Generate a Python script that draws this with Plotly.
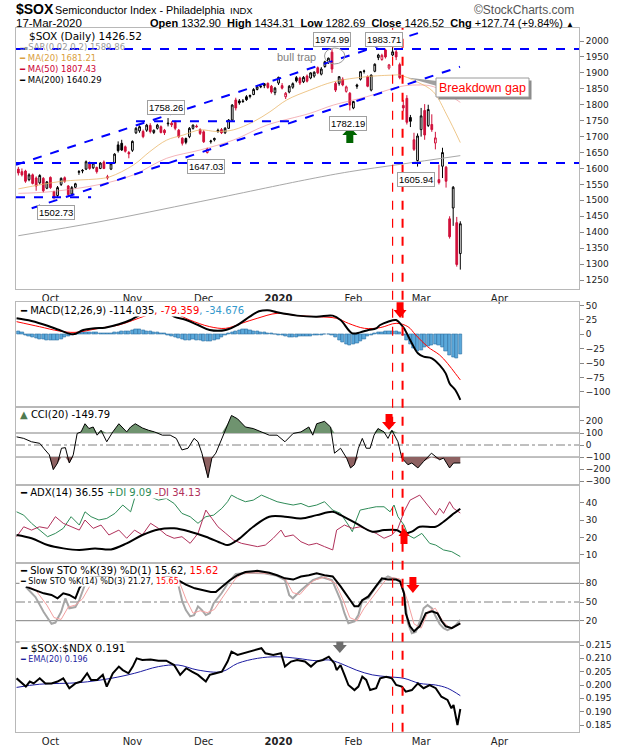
import numpy as np
import pandas as pd
import plotly.graph_objects as go
from plotly.subplots import make_subplots

# ---------------- trading calendar (day number = position in SESSIONS) ----------------
HOLIDAYS = ["2019-11-28", "2019-12-25", "2020-01-01", "2020-01-20", "2020-02-17", "2020-04-10"]
SESSIONS = [d for d in pd.bdate_range("2019-09-17", "2020-04-30") if d.strftime("%Y-%m-%d") not in HOLIDAYS]

# ---------------- $SOX daily OHLC, 18-Sep-2019 .. 17-Mar-2020 (sessions 1..125) ----------------
open_ = [1598, 1590, 1592, 1565, 1580, 1570, 1555, 1569, 1538, 1572,
         1527, 1515, 1550, 1571, 1545, 1520, 1541, 1588, 1592, 1598,
         1618, 1602, 1603, 1600, 1620, 1574, 1598, 1617, 1674, 1679,
         1668, 1650, 1657, 1712, 1718, 1716, 1720, 1735, 1713, 1726,
         1731, 1720, 1740, 1742, 1745, 1720, 1695, 1694, 1700, 1726,
         1733, 1722, 1715, 1650, 1684, 1690, 1716, 1722, 1712, 1726,
         1752, 1815, 1812, 1812, 1825, 1826, 1832, 1848, 1856, 1866,
         1867, 1858, 1838, 1868, 1860, 1825, 1840, 1855, 1885, 1884,
         1872, 1890, 1884, 1890, 1916, 1896, 1920, 1932, 1965, 1867,
         1867, 1880, 1842, 1836, 1790, 1862, 1880, 1906, 1888, 1846,
         1905, 1948, 1942, 1972, 1915, 1956, 1966, 1926, 1798, 1820,
         1760, 1690, 1625, 1722, 1782, 1735, 1738, 1680, 1565, 1607,
         1604, 1442, 1476, 1430, 1332.90]
high_ = [1605, 1600, 1596, 1585, 1584, 1575, 1582, 1573, 1560, 1575,
         1530, 1545, 1572, 1575, 1548, 1545, 1555, 1595, 1598, 1625,
         1622, 1620, 1606, 1620, 1625, 1580, 1618, 1648, 1685, 1690,
         1672, 1655, 1688, 1730, 1735, 1722, 1740, 1742, 1722, 1740,
         1735, 1724, 1758.26, 1748, 1750, 1724, 1698, 1697, 1730, 1738,
         1738, 1726, 1720, 1665, 1690, 1697, 1725, 1727, 1730, 1755,
         1802, 1822, 1818, 1818, 1830, 1832, 1852, 1860, 1862, 1868,
         1870, 1862, 1856, 1888, 1868, 1840, 1862, 1870, 1890, 1888,
         1890, 1895, 1902, 1905, 1920, 1918, 1938, 1948, 1974.99, 1872,
         1890, 1886, 1860, 1840, 1812, 1866, 1906, 1910, 1892, 1895,
         1930, 1960, 1960, 1976, 1928, 1983.71, 1972, 1932, 1815, 1830,
         1768, 1712, 1710, 1790, 1802, 1800, 1770, 1715, 1612, 1665,
         1608, 1450, 1545, 1448, 1434.31]
low_ = [1578, 1575, 1555, 1560, 1550, 1530, 1550, 1525, 1535, 1536,
        1502.73, 1508, 1545, 1555, 1515, 1516, 1538, 1580, 1585, 1595,
        1596, 1598, 1584, 1598, 1598, 1565, 1595, 1614, 1650, 1655,
        1650, 1632, 1652, 1708, 1712, 1695, 1715, 1710, 1708, 1722,
        1710, 1705, 1732, 1730, 1720, 1695, 1672, 1676, 1695, 1722,
        1728, 1705, 1680, 1647.03, 1678, 1685, 1712, 1708, 1708, 1724,
        1748, 1782, 1800, 1806, 1812, 1820, 1830, 1845, 1852, 1852,
        1850, 1835, 1830, 1862, 1848, 1818, 1836, 1850, 1870, 1862,
        1868, 1870, 1880, 1885, 1896, 1892, 1916, 1928, 1900, 1840,
        1860, 1858, 1838, 1782.19, 1786, 1850, 1876, 1898, 1855, 1842,
        1902, 1940, 1938, 1945, 1910, 1952, 1940, 1880, 1780, 1738,
        1730, 1655, 1605.94, 1700, 1690, 1730, 1715, 1660, 1550, 1570,
        1540, 1380, 1420, 1292, 1282.69]
close_ = [1586, 1580, 1560, 1580, 1553, 1545, 1578, 1530, 1558, 1540,
          1512, 1540, 1569, 1560, 1518, 1540, 1552, 1590, 1594, 1621,
          1600, 1617, 1590, 1617, 1600, 1571, 1615, 1645, 1656, 1658,
          1654, 1646, 1685, 1726, 1731, 1700, 1736, 1716, 1720, 1736,
          1713, 1712, 1742, 1737, 1726, 1700, 1679, 1682, 1726, 1736,
          1731, 1710, 1684, 1661, 1686, 1694, 1720, 1712, 1726, 1752,
          1799, 1790, 1806, 1810, 1816, 1829, 1848, 1856, 1858, 1860,
          1854, 1840, 1852, 1886, 1852, 1836, 1858, 1866, 1875, 1868,
          1886, 1874, 1900, 1902, 1900, 1912, 1935, 1946, 1912, 1846,
          1888, 1862, 1856, 1799, 1810, 1858, 1904, 1905, 1858, 1893,
          1927, 1956, 1955, 1950, 1925, 1966, 1950, 1885, 1790, 1745,
          1748, 1660, 1702, 1765, 1705, 1785, 1722, 1696, 1556, 1650,
          1560, 1386, 1541, 1298.78, 1426.52]

# moving averages (session number, value)
ma20_day = [1, 12.7, 18.3, 23, 26.7, 33.3, 37.9, 42.6, 47.3, 52, 56.6, 61.3, 67, 71.6, 76.3, 82.8,
            89.4, 98.7, 106.2, 108, 112.8, 117.4, 121.2, 125]
ma20_val = [1536, 1559, 1564, 1567, 1574, 1611, 1653, 1689, 1705, 1721, 1716, 1721, 1747, 1778, 1815, 1846,
            1872, 1888, 1893, 1893, 1872, 1841, 1768, 1681.21]
ma50_day = [1, 9.9, 23.9, 33.3, 42.6, 52, 61.3, 70.7, 82.8, 89.4, 98.7, 108.1, 112.8, 117.4, 125]
ma50_val = [1522, 1527, 1550, 1580, 1632, 1658, 1689, 1736, 1773, 1799, 1825, 1857, 1862, 1857, 1807.43]
ma200_day = [1, 23.9, 52, 82.8, 94, 108.1, 125]
ma200_val = [1389, 1433, 1496, 1567, 1590, 1613, 1640.29]

# MACD(12,26,9)
macd_day = [0.5, 4.7, 9.2, 12.5, 16.4, 19.2, 22.5, 25.3, 29.2, 32.5, 34.2, 37, 40, 42.5, 44.7, 48.1, 51.4,
            54.7, 59.2, 62.5, 65.9, 68.5, 71, 73.6, 79.2, 84.7, 89.2, 91.4, 94.7, 96.9, 99.2, 101.4, 102.5,
            104.7, 107, 108.1, 109.2, 111.4, 113.1, 114.7, 117, 119.2, 120.9, 122, 123.6, 125]
macd_val = [27.8, 23.2, 15.0, 7.5, 0, 7.5, 10.4, 11.6, 17.4, 24.9, 30.7, 40, 46, 40, 30.7, 24.9, 16.2,
            7.5, 7.5, 16.2, 30.7, 40, 42, 38.3, 32.5, 30.7, 32.5, 24.9, 1.7, 3.4, 7.5, 10.4, 16.2,
            22, 24.9, 19.1, 10.4, -15.7, -33.1, -38.9, -41.8, -53.5, -68, -85.4, -97, -114.035]
signal_day = [0.5, 6.9, 12.5, 16.9, 23.6, 29.2, 33, 37, 41, 45, 49.1, 54.7, 59.2, 63.6, 68, 73.6, 79.2,
              84.7, 90.3, 93.6, 98.1, 102.5, 107, 110.3, 112.5, 115.8, 119.2, 121.4, 123.6, 125]
signal_val = [22, 13.3, 5.7, 3.4, 10.4, 16.2, 24, 33, 40, 36, 24.9, 13.3, 10.4, 19.1, 27.8, 36.5, 32.5,
              30.7, 27.8, 19.1, 10.4, 11.6, 19.1, 13.3, -1.2, -21.5, -36, -50.5, -68, -79.359]
hist_val = [5, 3, -1, -3, -5, -7, -8, -9, -10, -11,
            -11, -10, -8, -6, -4, -2, 0, 2, 3, 4,
            4, 3, 3, 2, 2, 1, 2, 3, 4, 5,
            6, 6, 7, 8, 8, 7, 6, 5, 4, 3,
            2, 1, -1, -3, -5, -7, -9, -10, -10, -9,
            -10, -11, -12, -13, -12, -10, -8, -5, -2, 1,
            4, 6, 7, 8, 8, 7, 6, 5, 4, 3,
            2, 1, 0, -1, -2, -4, -5, -5, -5, -4,
            -4, -3, -3, -2, -1, -1, 0, 0, -2, -6,
            -10, -14, -17, -19, -18, -16, -12, -8, -4, -1,
            1, 3, 4, 5, 5, 6, 5, 3, -2, -10,
            -18, -25, -30, -28, -22, -20, -19, -18, -19, -22,
            -30, -36, -40, -42, -34.676]

# CCI(20)
cci_day = [0.5, 2.5, 4.7, 7.0, 8.1, 9.7, 10.8, 12.0, 13.1, 14.2, 15.3, 16.4, 17.5, 18.6, 19.7, 20.8, 22.0,
           23.1, 24.2, 25.8, 27.5, 29.2, 31.4, 32.5, 33.8, 35.8, 37.5, 39.2, 41.4, 43.6, 45.3, 46.9, 48.6,
           50.3, 51.4, 52.5, 54.2, 55.3, 56.4, 58.1, 59.7, 60.8, 62.5, 64.7, 66.9, 69.2, 71.4, 73.6, 75.8,
           78.1, 80.3, 82.5, 83.6, 84.7, 86.9, 88.6, 89.7, 91.4, 93.1, 94.2, 95.3, 96.4, 97.5, 98.6, 99.7,
           100.8, 101.9, 103.6, 104.7, 105.8, 107.5, 108.6, 110.3, 111.4, 113.1, 114.7, 116.9, 119.2, 120.3,
           122.0, 123.1, 125.0]
cci_val = [68, 55, 27, 14, -27, -82, -205, -150, -27, -22, -150, -82, 96, 109, 177, 137, 150,
           82, 123, 27, 109, 177, 109, 150, 177, 142, 123, 109, 82, 82, 55, -41, -27,
           55, 27, -68, -273, -109, -68, 55, 177, 246, 218, 150, 137, 109, 82, 82, 27,
           96, 109, 150, 82, 177, 197, 150, -68, -27, -109, -191, -164, -27, 55, -27, -27,
           82, 137, 109, 55, 123, 27, -109, -164, -150, -191, -137, -68, -123, -109,
           -191, -150, -149.79]

# ADX(14), +DI, -DI
adx_day = [0.5, 4.7, 9.2, 13.6, 18.1, 22.5, 27.0, 31.4, 35.8, 40.3, 44.7, 49.2, 53.6, 58.1, 59.7, 62.5, 66.9,
           71.4, 75.8, 80.3, 84.7, 89.2, 91.4, 95.8, 100.3, 103.6, 107, 109.2, 111.4, 113.6, 118.1, 120.3,
           122.6, 125]
adx_val = [21.5, 19.6, 15.7, 13.8, 12.9, 13.8, 13.2, 16.7, 21.5, 24.7, 25.3, 23.4, 20.5, 16.7, 15.7, 18.6, 26.2,
           32.0, 32.0, 31.0, 32.9, 34.8, 32.9, 28.2, 23.4, 24.3, 24.3, 22.4, 23.4, 26.2, 26.2, 29.1,
           32.9, 36.55]
pdi_day = [0.5, 2.5, 4.7, 6.9, 9.2, 11.4, 13.6, 15.8, 18.1, 19.7, 21.4, 23.6, 25.8, 28.1, 30.3, 32.5, 33.6, 35,
           37, 38.1, 40.3, 42.5, 44.7, 46.9, 49.2, 51.4, 53.6, 55.8, 58.1, 59.7, 60.8, 62.5, 64.7, 66.9, 69.2,
           71.4, 73.6, 75.8, 78.1, 80.3, 82.5, 84.7, 86.9, 89.2, 91.4, 93.6, 94.7, 95.8, 96.9, 99.2, 101.4,
           103.6, 105.3, 106.4, 107.5, 109.2, 110.3, 112, 114.2, 116.4, 118.1, 120.3, 122.6, 125]
pdi_val = [34.8, 32.9, 28.2, 24.3, 20.5, 22.4, 25.3, 32.0, 27.2, 34.8, 32.0, 30.1, 31.0, 33.9, 38.7, 34.8, 42.5, 46,
           44, 43.4, 41.5, 42.5, 39.6, 33.9, 32.0, 28.2, 32.0, 32.9, 36.8, 40.6, 44.4, 42.5, 40.6, 41.5, 44.4,
           42.5, 40.6, 39.6, 38.7, 39.6, 37.7, 38.7, 40.6, 35.8, 33.9, 27.2, 23.4, 30.1, 35.8, 36.8, 37.7,
           37.7, 34.8, 38.7, 32.0, 27.2, 21.5, 19.6, 22.4, 16.7, 15.7, 12.9, 11.9, 9.09]
mdi_day = [0.5, 2.5, 4.7, 6.9, 9.2, 11.4, 13.6, 15.8, 18.1, 19.7, 22.0, 24.2, 26.4, 29.2, 31.4, 33.6, 35.8, 38.1,
           40.3, 42.5, 44.7, 46.9, 49.2, 51.4, 53.6, 55.3, 57.0, 59.2, 61.4, 63.6, 65.9, 68.1, 70.3, 72.5, 74.7,
           75.8, 78.1, 80.3, 82.5, 84.7, 86.9, 89.2, 90.3, 92.5, 94.7, 96.9, 99.2, 101.4, 103.6, 105.8, 107.5,
           109.2, 110.9, 112.5, 113.6, 115.8, 118.1, 119.2, 120.3, 122, 123.1, 125]
mdi_val = [20.5, 26.2, 24.3, 26.2, 25.3, 32.0, 28.2, 26.2, 24.3, 30.1, 25.3, 27.2, 21.5, 24.3, 19.6, 24.3, 21.5, 28.2,
           25.3, 21.5, 19.6, 20.5, 16.7, 22.4, 35.8, 31.0, 26.2, 22.4, 18.6, 16.7, 15.7, 14.8, 15.7, 19.6, 24.3,
           20.5, 21.5, 17.6, 15.7, 16.7, 14.8, 12.9, 24.3, 27.2, 25.3, 26.2, 24.3, 22.4, 19.6, 21.5, 25.3,
           34.8, 41.5, 43.4, 44.4, 38.7, 32.9, 36.8, 33.9, 40.6, 36.8, 34.13]

# Slow stochastics
stok39_day = [3.1, 5.8, 8.1, 10.3, 12.0, 13.6, 15.3, 17.0, 18.1, 20, 25, 30, 35, 40, 45, 48, 50.5, 52.5, 55,
              56.4, 58.1, 60.3, 62.5, 64.7, 68, 71.4, 73.6, 75.8, 78.1, 80.3, 82.5, 84.7, 86.9, 89.2, 91.4,
              93.6, 95.3, 96.4, 97.5, 99.2, 101.4, 103, 104.7, 107, 108.1, 109.2, 109.7, 110.9, 112, 113.6,
              115.3, 117, 118.6, 119.8, 120.9, 122.6, 125]
stok39_val = [74.6, 69.3, 63.9, 61.3, 55.9, 63.9, 61.3, 55.9, 72, 88, 92, 95, 97, 95, 88, 78, 72, 69, 66,
              66, 74, 85, 93, 98, 100, 97, 93, 88, 86, 91, 93, 96, 93, 91, 75,
              56, 43, 43, 53, 59, 75, 88, 86, 86, 83, 64, 32, 11, 3, 11,
              32, 35, 32, 19, 11, 8, 15.62]
stok14_day = [3.1, 5.8, 8.1, 10.3, 11.4, 13.0, 14.2, 15.3, 17.0, 18.1, 19.5, 21, 24, 28, 32, 36, 40, 43, 44.7,
              46, 47, 48, 49.2, 50.3, 51.4, 52.5, 53.6, 54.7, 55.8, 58, 60, 62, 66, 70, 73.6, 75.8, 77, 78,
              80.3, 83.6, 86, 89, 91.4, 92.5, 93.6, 95.3, 96.4, 97.5, 99.2, 101.4, 103, 104.7, 106, 108.1,
              109.2, 110.3, 111.4, 112.5, 113.6, 114.7, 115.8, 117, 118, 119.2, 120.3, 121.4, 122.6, 123.6, 125]
stok14_val = [74, 58, 34, 15, 17, 34, 56, 40, 42, 53, 75, 90, 93, 96, 90, 96, 92, 97, 95,
              75, 51, 37, 27, 29, 43, 37, 29, 32, 48, 64, 82, 95, 97, 96, 92, 85, 61, 56,
              69, 85, 90, 85, 53, 32, 16, 19, 29, 53, 56, 75, 85, 91, 88, 85,
              64, 16, 0, 2, 18, 40, 45, 40, 28, 15, 8, 5, 8, 12, 21.27]
stod3_day = [3.1, 6, 9, 11, 13, 15, 17, 19, 21, 23, 28, 33, 38, 44, 46, 48, 50, 52, 54, 56, 58, 60, 62, 64,
             68, 72, 74, 76, 78, 80, 82, 84, 87, 90, 92, 94, 96, 98, 100, 102, 104, 106, 108, 110, 112, 114,
             116, 118, 120, 122, 124, 125]
stod3_val = [78, 68, 45, 25, 22, 42, 45, 55, 75, 88, 94, 92, 95, 96, 85, 55, 32, 36, 33, 38, 55, 72, 88, 96,
             97, 95, 92, 86, 65, 62, 75, 85, 90, 80, 55, 25, 20, 40, 55, 70, 85, 89, 87, 55, 15, 8,
             35, 40, 20, 8, 12, 15.65]

# $SOX:$NDX ratio and its EMA(20)
ratio_day = [0.5, 2.0, 3.1, 4.2, 5.3, 7.0, 8.6, 10.3, 12.0, 13.6, 15.3, 17.0, 18.6, 20.3, 21.4, 23.1, 24.7, 25.8,
             27.5, 29.2, 30.3, 31.9, 33.1, 34.2, 35.8, 38.1, 40.3, 42.5, 44.7, 46.4, 48.1, 49.7, 51.4, 53.6,
             54.7, 56.4, 58.1, 59.7, 60.8, 62.5, 64.2, 65.8, 67.5, 69.2, 70.3, 72.5, 74.7, 75.8, 77.5, 79.2,
             81.4, 83.1, 84.7, 86.4, 88.1, 89.7, 90.3, 91.4, 92.5, 93.6, 95.3, 96.4, 97.5, 98.6, 99.7, 101.4,
             102.5, 104.2, 105.8, 107, 108.6, 109.7, 111.4, 113.1, 114.7, 116.4, 118.1, 119.7, 121.4, 122.5,
             123.1, 124.2, 125]
ratio_val = [0.2025, 0.2006, 0.1994, 0.2013, 0.2006, 0.2025, 0.2006, 0.2006, 0.2013, 0.2025, 0.1988, 0.2006,
             0.2013, 0.2044, 0.2019, 0.2019, 0.2038, 0.1994, 0.2044, 0.2069, 0.2056, 0.2044, 0.2069, 0.2100,
             0.2094, 0.2096, 0.2091, 0.2091, 0.2075, 0.2038, 0.2063, 0.2050, 0.2038, 0.2013, 0.2038, 0.2044,
             0.2050, 0.2088, 0.2125, 0.2113, 0.2119, 0.2125, 0.2131, 0.2138, 0.2119, 0.2113, 0.2119, 0.2069,
             0.2088, 0.2094, 0.2088, 0.2069, 0.2088, 0.2094, 0.2106, 0.2081, 0.2056, 0.2075, 0.2038, 0.2000,
             0.1981, 0.1994, 0.2031, 0.2019, 0.1981, 0.1988, 0.2025, 0.2031, 0.2025, 0.2000, 0.1994, 0.1975,
             0.1981, 0.2006, 0.1988, 0.2000, 0.1988, 0.1956, 0.1944, 0.1913, 0.1925, 0.1850, 0.191]
ema_day = [0.5, 7.0, 18.1, 27.0, 33.6, 40.3, 45.8, 51.4, 58.1, 62.5, 68.1, 73.6, 79.2, 84.7, 88.1, 91.4,
           95.8, 100.3, 104.7, 109.2, 113.6, 118.1, 121.4, 125]
ema_val = [0.1991, 0.2003, 0.2009, 0.2025, 0.2044, 0.2069, 0.2075, 0.2056, 0.2050, 0.2081, 0.2100, 0.2106,
           0.2100, 0.2091, 0.2094, 0.2081, 0.2056, 0.2038, 0.2031, 0.2025, 0.2006, 0.2000, 0.1988, 0.196]

# annotations on the price panel
callout_text = ["1974.99", "1983.71", "1758.26", "1647.03", "1502.73", "1782.19", "1605.94"]
callout_day = [89.0, 103.6, 42.4, 53.6, 11.7, 93.5, 112.6]
callout_price = [2006, 2006, 1790, 1605, 1462, 1741, 1565]
support_levels = [1974.99, 1617]
signal_days = [106, 108.8]

# ---------------- geometry helpers ----------------
W, H = 620, 750
ML, MR = 16, 41
PW = W - ML - MR


def xp(p):
    return (p - ML) / PW


def yp(p):
    return 1 - p / H


bar_day = list(range(1, len(close_) + 1))
prev_close = [open_[0]] + close_[:-1]
up = [c >= p for c, p in zip(close_, prev_close)]

RED = "#d0103a"
BLUE = "#0000ff"

fig = make_subplots(rows=6, cols=1, shared_xaxes=True, vertical_spacing=0)


def sub(lst, mask):
    return [v for v, m in zip(lst, mask) if m]


down = [not u for u in up]
fig.add_trace(go.Candlestick(x=sub(bar_day, up), open=sub(open_, up), high=sub(high_, up),
                             low=sub(low_, up), close=sub(close_, up), whiskerwidth=0,
                             increasing=dict(line=dict(color="black", width=1), fillcolor="white"),
                             decreasing=dict(line=dict(color="black", width=1), fillcolor="black"),
                             hoverinfo="skip"), row=1, col=1)
fig.add_trace(go.Candlestick(x=sub(bar_day, down), open=sub(open_, down), high=sub(high_, down),
                             low=sub(low_, down), close=sub(close_, down), whiskerwidth=0,
                             increasing=dict(line=dict(color=RED, width=1), fillcolor="white"),
                             decreasing=dict(line=dict(color=RED, width=1), fillcolor=RED),
                             hoverinfo="skip"), row=1, col=1)
fig.add_trace(go.Scatter(x=ma200_day, y=ma200_val, mode="lines", line=dict(color="#a8a8a8", width=1, shape="spline"),
                         hoverinfo="skip"), row=1, col=1)
fig.add_trace(go.Scatter(x=ma50_day, y=ma50_val, mode="lines",
                         line=dict(color="rgba(235,120,130,0.55)", width=1, shape="spline"), hoverinfo="skip"), row=1, col=1)
fig.add_trace(go.Scatter(x=ma20_day, y=ma20_val, mode="lines",
                         line=dict(color="rgba(232,180,100,0.75)", width=1, shape="spline"), hoverinfo="skip"), row=1, col=1)

# MACD
fig.add_trace(go.Bar(x=bar_day, y=hist_val, width=0.9, marker=dict(color="#5aa8da", line=dict(color="#2b6ea3", width=0.6)),
                     hoverinfo="skip"), row=2, col=1)
fig.add_trace(go.Scatter(x=signal_day, y=signal_val, mode="lines", line=dict(color="#ff0000", width=1, shape="spline"),
                         hoverinfo="skip"), row=2, col=1)
fig.add_trace(go.Scatter(x=macd_day, y=macd_val, mode="lines", line=dict(color="black", width=2, shape="spline"),
                         hoverinfo="skip"), row=2, col=1)

# CCI with shaded extremes
cci_arr = np.array(cci_val, dtype=float)
fig.add_trace(go.Scatter(x=cci_day, y=[100] * len(cci_day), mode="lines", line=dict(width=0), hoverinfo="skip"), row=3, col=1)
fig.add_trace(go.Scatter(x=cci_day, y=np.maximum(cci_arr, 100), mode="lines", line=dict(width=0), fill="tonexty",
                         fillcolor="#6f936f", hoverinfo="skip"), row=3, col=1)
fig.add_trace(go.Scatter(x=cci_day, y=[-100] * len(cci_day), mode="lines", line=dict(width=0), hoverinfo="skip"), row=3, col=1)
fig.add_trace(go.Scatter(x=cci_day, y=np.minimum(cci_arr, -100), mode="lines", line=dict(width=0), fill="tonexty",
                         fillcolor="#8e6262", hoverinfo="skip"), row=3, col=1)
fig.add_trace(go.Scatter(x=cci_day, y=cci_val, mode="lines", line=dict(color="black", width=1), hoverinfo="skip"), row=3, col=1)

# ADX
fig.add_trace(go.Scatter(x=pdi_day, y=pdi_val, mode="lines", line=dict(color="#2e8b57", width=1), hoverinfo="skip"), row=4, col=1)
fig.add_trace(go.Scatter(x=mdi_day, y=mdi_val, mode="lines", line=dict(color="#b0305a", width=1), hoverinfo="skip"), row=4, col=1)
fig.add_trace(go.Scatter(x=adx_day, y=adx_val, mode="lines", line=dict(color="black", width=2, shape="spline"),
                         hoverinfo="skip"), row=4, col=1)

# Stochastics
fig.add_trace(go.Scatter(x=stok14_day, y=stok14_val, mode="lines", line=dict(color="#a6a6a6", width=2), hoverinfo="skip"), row=5, col=1)
fig.add_trace(go.Scatter(x=stod3_day, y=stod3_val, mode="lines", line=dict(color="#f3a0a0", width=1), hoverinfo="skip"), row=5, col=1)
fig.add_trace(go.Scatter(x=stok39_day, y=stok39_val, mode="lines", line=dict(color="black", width=2), hoverinfo="skip"), row=5, col=1)

# Ratio
fig.add_trace(go.Scatter(x=ema_day, y=ema_val, mode="lines", line=dict(color="#1c1ca0", width=1, shape="spline"),
                         hoverinfo="skip"), row=6, col=1)
fig.add_trace(go.Scatter(x=ratio_day, y=ratio_val, mode="lines", line=dict(color="black", width=2), hoverinfo="skip"), row=6, col=1)

# ---------------- axes ----------------
month_ticks, month_text, seen = [], [], set()
for i, d in enumerate(SESSIONS):
    key = (d.year, d.month)
    if key not in seen:
        seen.add(key)
        if i > 0:
            month_ticks.append(i)
            month_text.append("<b>2020</b>" if d.month == 1 else d.strftime("%b"))

X_RANGE = [0.34, 158.3]
domains = [(289, 28), (407.3, 302.3), (485, 407.3), (563, 485), (641.7, 563), (731.7, 641.7)]
yranges = [[1221.8, 2040.8], [-127, 55.7], [-333, 314], [5.4, 50.2], [-13.7, 112.6], [0.18249, 0.21624]]
yticks = [list(range(1250, 2001, 50)), [-100, -75, -50, -25, 0, 25, 50], [-300, -200, -100, 0, 100, 200],
          [10, 20, 30, 40], [20, 50, 80], [0.185, 0.19, 0.195, 0.2, 0.205, 0.21, 0.215]]
ytickfmt = [None, None, None, None, None, ".3f"]

layout_axes = {}
for k in range(6):
    sfx = "" if k == 0 else str(k + 1)
    layout_axes["xaxis" + sfx] = dict(range=X_RANGE, showgrid=False, zeroline=False, showline=True, linecolor="#b8b8b8",
                                      mirror=True, tickmode="array", tickvals=month_ticks, ticktext=month_text,
                                      ticks="", showticklabels=(k in (0, 5)), automargin=False,
                                      tickfont=dict(family="DejaVu Sans", size=10, color="#222"),
                                      rangeslider=dict(visible=False))
    ya = dict(domain=[yp(domains[k][0]), yp(domains[k][1])], range=yranges[k], side="right", showgrid=False,
              zeroline=False, showline=True, linecolor="#b8b8b8", mirror=True, ticks="outside", ticklen=4,
              tickcolor="#888", tickmode="array", tickvals=yticks[k], automargin=False,
              tickfont=dict(family="DejaVu Sans", size=9, color="#222"))
    if ytickfmt[k]:
        ya["tickformat"] = ytickfmt[k]
    layout_axes["yaxis" + sfx] = ya

# ---------------- shapes ----------------
shapes = []
for lvl in support_levels:
    shapes.append(dict(type="line", xref="x", yref="y", x0=X_RANGE[0], x1=X_RANGE[1], y0=lvl, y1=lvl,
                       line=dict(color=BLUE, width=2, dash="dash")))
shapes.append(dict(type="line", xref="x", yref="y", x0=34, x1=77, y0=1748, y1=1748, line=dict(color=BLUE, width=2, dash="dash")))
shapes.append(dict(type="line", xref="x", yref="y", x0=X_RANGE[0], x1=21.4, y0=1510, y1=1510, line=dict(color=BLUE, width=2, dash="dash")))
shapes.append(dict(type="line", xref="x", yref="y", x0=X_RANGE[0], x1=113.7, y0=1611.5, y1=2027, line=dict(color=BLUE, width=2, dash="dash")))
shapes.append(dict(type="line", xref="x", yref="y", x0=4.74, x1=124.9, y0=1475, y1=1919, line=dict(color=BLUE, width=2, dash="dash")))
# bull-trap ellipse
shapes.append(dict(type="circle", xref="x", yref="y", x0=86.9, x1=92.6, y0=1928, y1=1978, line=dict(color="#999", width=1)))
# signal lines through all panels
for d, wd in zip(signal_days, [1.2, 2]):
    shapes.append(dict(type="line", xref="x", yref="paper", x0=d, x1=d, y0=yp(731.7), y1=yp(28),
                       line=dict(color="#ff0000", width=wd, dash="dash")))
# CCI and STO guide lines
for yref, lv, dsh in [("y3", 100, "solid"), ("y3", -100, "solid"), ("y3", 0, "dashdot"),
                      ("y5", 80, "solid"), ("y5", 20, "solid"), ("y5", 50, "dashdot")]:
    shapes.append(dict(type="line", xref="paper", yref=yref, x0=0, x1=1, y0=lv, y1=lv, layer="below",
                       line=dict(color="#808080", width=1, dash=dsh)))
# breakdown gap callout box
shapes.append(dict(type="path", xref="paper", yref="paper",
                   path=f"M {xp(407)} {yp(77.5)} L {xp(437)} {yp(81)} L {xp(437)} {yp(86)} Z",
                   fillcolor="#a0a0a0", line=dict(width=0)))
shapes.append(dict(type="rect", xref="paper", yref="paper", x0=xp(438.5), x1=xp(531.5), y0=yp(99.5), y1=yp(80.5),
                   fillcolor="#8c8c8c", line=dict(width=0)))
shapes.append(dict(type="rect", xref="paper", yref="paper", x0=xp(436), x1=xp(529), y0=yp(97), y1=yp(78),
                   fillcolor="white", line=dict(color="#9a9a9a", width=1)))


def arrow(xv, yv, yref, color, direction, hw=7, sw=3.5):
    s = 1 if direction == "down" else -1
    path = (f"M 0 0 L {hw} {8*s} L {sw} {8*s} L {sw} {16*s} L {-sw} {16*s} L {-sw} {8*s} L {-hw} {8*s} Z")
    return dict(type="path", xref="x", yref=yref, xsizemode="pixel", ysizemode="pixel", xanchor=xv, yanchor=yv,
                path=path, fillcolor=color, line=dict(width=0))


shapes.append(arrow(94, 1730, "y", "#006400", "up", hw=7.5, sw=3.5))
shapes.append(arrow(108.1, 28.4, "y2", "#ff0000", "down", hw=6.5, sw=3.5))
shapes.append(arrow(105, 125, "y3", "#ff0000", "down", hw=7, sw=3.5))
shapes.append(arrow(109.2, 25.5, "y4", "#ff0000", "up", hw=5.5, sw=3.5))
shapes.append(arrow(111.7, 64.4, "y5", "#ff0000", "down", hw=6.5, sw=3.5))
shapes.append(arrow(91.2, 0.2120, "y6", "#6e6e6e", "down", hw=7, sw=3.5))

# ---------------- annotations ----------------
SANS = "Liberation Sans, Arial, sans-serif"
VER = "DejaVu Sans, Verdana, sans-serif"
ann = []


def txt(x, y, text, size, color="#000", family=VER, xanchor="left", bg=None, xref="paper", yref="paper"):
    a = dict(x=x, y=y, xref=xref, yref=yref, text=text, showarrow=False, xanchor=xanchor, yanchor="middle",
             font=dict(family=family, size=size, color=color), borderpad=0)
    if bg:
        a["bgcolor"] = bg
    return a


# header
ann.append(txt(xp(15), yp(9), "<b>$SOX</b>", 14, family=SANS))
ann.append(txt(xp(54), yp(10), "Semiconductor Index - Philadelphia", 10.8, family=SANS))
ann.append(txt(xp(229), yp(10.5), "INDX", 9.5, family=SANS))
ann.append(txt(xp(575), yp(10), "©StockCharts.com", 12, color="#555", family=SANS, xanchor="right"))
ann.append(txt(xp(15), yp(23.5), "17-Mar-2020", 11.5, family=SANS))
ann.append(txt(xp(575), yp(23.5), "<b>Open</b> 1332.90  <b>High</b> 1434.31  <b>Low</b> 1282.69  <b>Close</b> 1426.52  "
               "<b>Chg</b> +127.74 (+9.84%) <span style='font-size:8px'>▲</span>", 11, family=SANS, xanchor="right"))

# price panel legend
ann.append(txt(xp(28), yp(35.5), "$SOX (Daily) 1426.52", 10.5))
ann.append(txt(xp(19), yp(46.5), "<span style='font-size:6px'>▫▪</span>SAR(0.02,0.2) 1589.86", 8.5, color="#9a9a9a"))
ann.append(txt(xp(18), yp(58), "━ MA(20) 1681.21", 8.5, color="#d9a040"))
ann.append(txt(xp(18), yp(69), "━ MA(50) 1807.43", 8.5, color="#cc0033"))
ann.append(txt(xp(18), yp(80), "━ MA(200) 1640.29", 8.5, color="#000"))

for t, d, p in zip(callout_text, callout_day, callout_price):
    a = txt(d, p, t, 9.5, family="Liberation Sans", xanchor="center", bg="white", xref="x", yref="y")
    a.update(bordercolor="#a0a0a0", borderwidth=1, borderpad=1)
    ann.append(a)
ann.append(txt(78.9, 1950, "bull trap", 11, color="#808080", family="Liberation Sans", xanchor="center", xref="x", yref="y"))
ann.append(txt(xp(482.5), yp(87.5), "Breakdown gap", 12.5, color="#ff0000", family="Liberation Sans", xanchor="center"))

# indicator legends
ann.append(txt(xp(19), yp(310), "━ MACD(12,26,9) -114.035<span style='color:#ff0000'>, -79.359</span>"
               "<span style='color:#3399cc'>, -34.676</span>", 10, bg="white"))
ann.append(txt(xp(19), yp(414), "<span style='color:#4f7a4f'>▲</span> CCI(20) -149.79", 10, bg="white"))
ann.append(txt(xp(19), yp(492), "━ ADX(14) 36.55 <span style='color:#2e8b57'>+DI 9.09</span> "
               "<span style='color:#b0305a'>-DI 34.13</span>", 10, bg="white"))
ann.append(txt(xp(19), yp(570.5), "━ Slow STO %K(39) %D(1) 15.62, <span style='color:#ff0000'>15.62</span>", 10, bg="white"))
ann.append(txt(xp(19), yp(581), "━ Slow STO %K(14) %D(3) 21.27, <span style='color:#ff0000'>15.65</span>", 8, bg="white"))
ann.append(txt(xp(19), yp(648), "━ $SOX:$NDX 0.191", 10.5, bg="white"))
ann.append(txt(xp(19), yp(659.5), "━ EMA(20) 0.196", 8, color="#1c1ca0", bg="white"))

fig.update_layout(width=W, height=H, margin=dict(l=ML, r=MR, t=0, b=0), template="none",
                  paper_bgcolor="white", plot_bgcolor="white", showlegend=False, bargap=0,
                  shapes=shapes, annotations=ann, font=dict(family=VER, size=10, color="#000"),
                  **layout_axes)

fig.write_html("out.html", config={"displayModeBar": False}, post_script="document.body.style.margin='0';")
